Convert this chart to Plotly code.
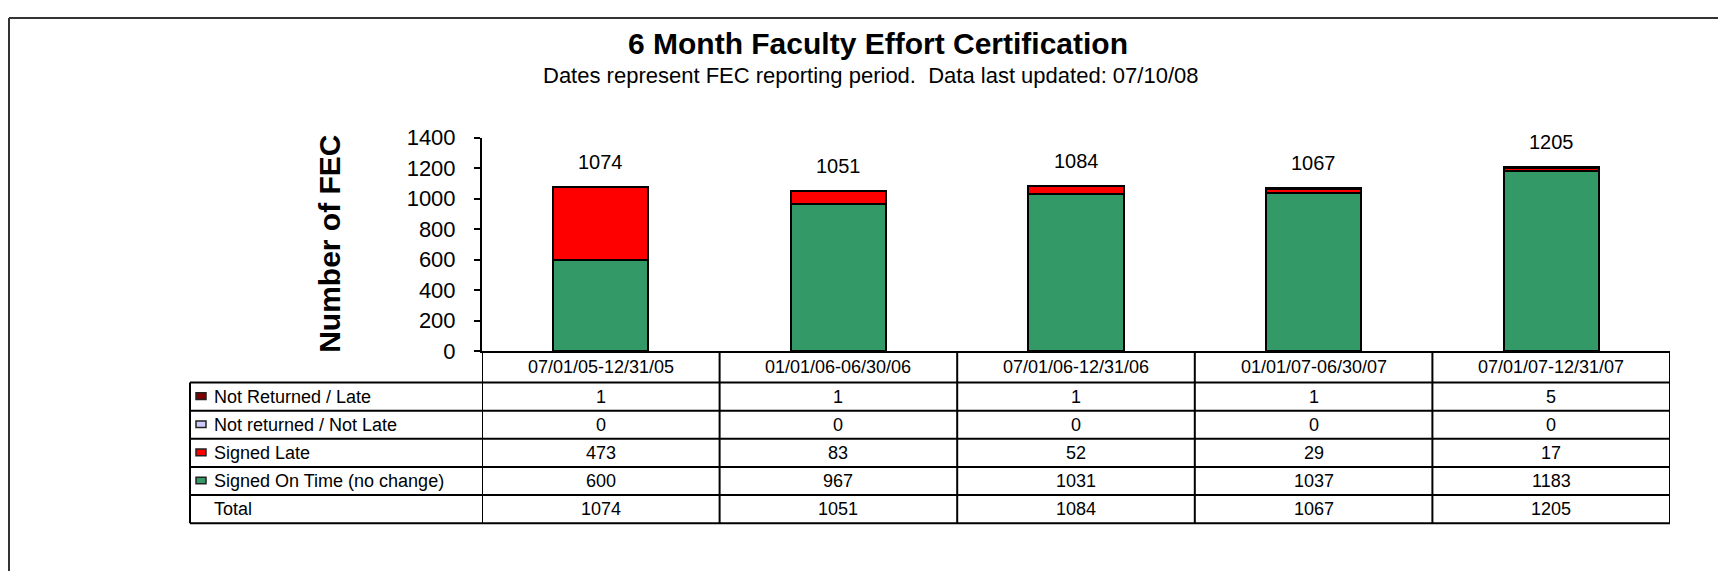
import plotly.graph_objects as go

W, H = 1726, 576
OFF = 8  # page body margin pushes the figure 8px right and down

# data
periods = ["07/01/05-12/31/05", "01/01/06-06/30/06", "07/01/06-12/31/06",
           "01/01/07-06/30/07", "07/01/07-12/31/07"]
not_returned_late = [1, 1, 1, 1, 5]
not_returned_not_late = [0, 0, 0, 0, 0]
signed_late = [473, 83, 52, 29, 17]
signed_on_time = [600, 967, 1031, 1037, 1183]
totals = [1074, 1051, 1084, 1067, 1205]
y_ticks = [0, 200, 400, 600, 800, 1000, 1200, 1400]

# series in stacking order (bottom first)
series = [
    ("Signed On Time (no change)", signed_on_time, "#339966"),
    ("Signed Late", signed_late, "#FF0000"),
    ("Not returned / Not Late", not_returned_not_late, "#CCCCFF"),
    ("Not Returned / Late", not_returned_late, "#800000"),
]
# table row order (top first)
table_rows = [series[3], series[2], series[1], series[0]]

FONT = "Liberation Sans, Arial, sans-serif"


def px(x):
    return (x - OFF) / W


def py(y):
    return 1 - (y - OFF) / H


fig = go.Figure()
for name, vals, color in series:
    fig.add_trace(go.Bar(x=periods, y=vals, name=name, width=0.4,
                         marker=dict(color=color, line=dict(color="black", width=2))))

# totals above bars
for p, t in zip(periods, totals):
    fig.add_annotation(x=p, y=t, text=str(t), showarrow=False, yshift=25,
                       xanchor="center", yanchor="middle",
                       font=dict(size=20, color="black", family=FONT))

# table geometry (pixels)
ax_left, tbl_left, tbl_right = 482, 190, 1670
hdr_top, hdr_bot = 354, 387
row_h = 29.4
n_rows = len(table_rows) + 1
row_lines = [hdr_bot + i * row_h for i in range(n_rows + 1)]
tbl_bot = row_lines[-1]

line = dict(color="black", width=2)
shapes = []
# horizontal lines
for y in row_lines:
    shapes.append(dict(type="line", xref="paper", yref="paper", x0=px(tbl_left), x1=px(tbl_right),
                       y0=py(y), y1=py(y), line=line))
# vertical lines
shapes.append(dict(type="line", xref="paper", yref="paper", x0=px(tbl_left), x1=px(tbl_left),
                   y0=py(hdr_bot), y1=py(tbl_bot), line=line))
for i in range(len(periods) + 1):
    shapes.append(dict(type="line", xref="x", yref="paper", x0=i - 0.5, x1=i - 0.5,
                       y0=py(hdr_top), y1=py(tbl_bot), line=line))
# outer frame (only top and left are visible)
shapes.append(dict(type="line", xref="paper", yref="paper", x0=px(9), x1=1, y0=py(6), y1=py(6),
                   line=dict(color="#333333", width=2)))
shapes.append(dict(type="line", xref="paper", yref="paper", x0=px(9), x1=px(9), y0=py(6), y1=0,
                   line=dict(color="#333333", width=2)))

cell_font = dict(size=18, color="black", family=FONT)

# header row: period labels
for p in periods:
    fig.add_annotation(x=p, xref="x", y=py((hdr_top + hdr_bot) / 2), yref="paper", text=p,
                       xanchor="center", yanchor="middle", showarrow=False, font=cell_font)

# data rows
all_rows = [(n, v, c) for n, v, c in table_rows] + [("Total", totals, None)]
for r, (name, vals, color) in enumerate(all_rows):
    yc = row_lines[r] + row_h / 2
    if color:
        shapes.append(dict(type="rect", xref="paper", yref="paper", x0=px(196), x1=px(206),
                           y0=py(yc - 4), y1=py(yc + 3), fillcolor=color,
                           line=dict(color="#222222", width=1.5)))
    fig.add_annotation(x=px(212), xref="paper", y=py(yc), yref="paper", text=name,
                       xanchor="left", yanchor="middle", showarrow=False, font=cell_font)
    for p, v in zip(periods, vals):
        fig.add_annotation(x=p, xref="x", y=py(yc), yref="paper", text=str(v),
                           xanchor="center", yanchor="middle", showarrow=False, font=cell_font)

# subtitle
fig.add_annotation(x=px(871), xref="paper", y=py(66), yref="paper",
                   text="Dates represent FEC reporting period.  Data last updated: 07/10/08",
                   xanchor="center", yanchor="middle", showarrow=False,
                   font=dict(size=22, color="black", family=FONT))
# y axis title
fig.add_annotation(x=px(330), xref="paper", y=py(242), yref="paper", text="<b>Number of FEC</b>",
                   xanchor="center", yanchor="middle", textangle=-90, showarrow=False,
                   font=dict(size=30, color="black", family=FONT))

fig.update_layout(
    width=W, height=H,
    margin=dict(l=0, r=0, t=0, b=0),
    barmode="stack",
    showlegend=False,
    paper_bgcolor="white",
    plot_bgcolor="white",
    font=dict(family=FONT, color="black"),
    title=dict(text="<b>6 Month Faculty Effort Certification</b>", x=px(878), xanchor="center",
               y=py(43), yanchor="middle", font=dict(size=30, color="black", family=FONT)),
    xaxis=dict(domain=[px(ax_left), px(tbl_right)], range=[-0.5, len(periods) - 0.5],
               showticklabels=False, ticks="", showline=True, linecolor="black", linewidth=2,
               showgrid=False, zeroline=False),
    yaxis=dict(domain=[py(hdr_top), py(131)], range=[0, 1400], tickvals=y_ticks,
               ticks="outside", ticklen=6, tickwidth=2, tickcolor="black",
               showline=True, linecolor="black", linewidth=2, showgrid=False, zeroline=False,
               ticklabelstandoff=14, tickfont=dict(size=22, color="black", family=FONT)),
    shapes=shapes,
)

fig.write_html("out.html")
